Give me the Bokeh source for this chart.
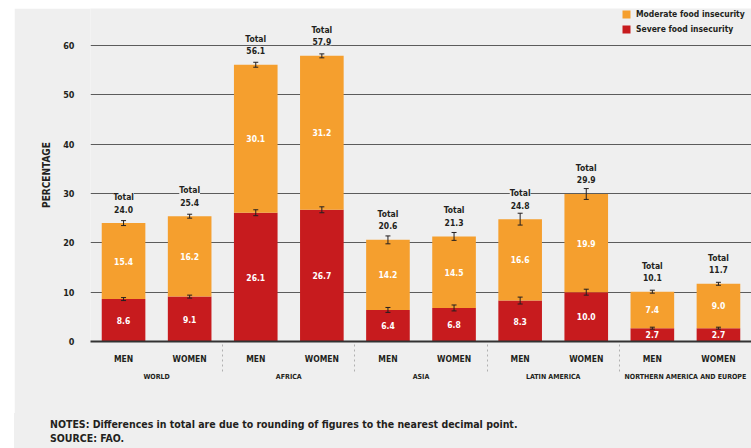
from bokeh.plotting import figure
from bokeh.models import (ColumnDataSource, FactorRange, LabelSet, Whisker, TeeHead,
                          Legend, LegendItem, FixedTicker, Range1d, Spacer, Div)
from bokeh.core.properties import value
from bokeh.layouts import row, column
from bokeh.embed import file_html
from bokeh.resources import INLINE

groups = ["WORLD", "AFRICA", "ASIA", "LATIN AMERICA", "NORTHERN AMERICA AND EUROPE"]
sexes = ["MEN", "WOMEN"]
severe = [8.6, 9.1, 26.1, 26.7, 6.4, 6.8, 8.3, 10.0, 2.7, 2.7]
moderate = [15.4, 16.2, 30.1, 31.2, 14.2, 14.5, 16.6, 19.9, 7.4, 9.0]
total = [24.0, 25.4, 56.1, 57.9, 20.6, 21.3, 24.8, 29.9, 10.1, 11.7]
severe_err = [0.3, 0.3, 0.6, 0.6, 0.5, 0.6, 0.7, 0.6, 0.2, 0.2]
total_err = [0.5, 0.4, 0.5, 0.4, 0.8, 0.8, 1.2, 1.1, 0.3, 0.3]
y_ticks = [0, 10, 20, 30, 40, 50, 60]
notes_text = "NOTES: Differences in total are due to rounding of figures to the nearest decimal point."
source_text = "SOURCE: FAO."

BG = "#efefef"
ORANGE = "#f59f2e"
RED = "#c71b1e"
FONT = "DejaVu Sans Condensed"
DARK = "#231f20"

factors = [(g, s) for g in groups for s in sexes]

src = ColumnDataSource(dict(
    x=factors,
    severe=severe,
    total=total,
    zero=[0] * len(factors),
    sev_mid=[s / 2 for s in severe],
    mod_mid=[(s + t) / 2 for s, t in zip(severe, total)],
    sev_txt=[f"{v:.1f}" for v in severe],
    mod_txt=[f"{v:.1f}" for v in moderate],
    tot_txt=[f"{v:.1f}" for v in total],
    tot_lbl=["Total"] * len(factors),
    sev_lo=[s - e for s, e in zip(severe, severe_err)],
    sev_hi=[s + e for s, e in zip(severe, severe_err)],
    tot_lo=[t - e for t, e in zip(total, total_err)],
    tot_hi=[t + e for t, e in zip(total, total_err)],
))

p = figure(
    x_range=FactorRange(*factors, group_padding=0, factor_padding=0, range_padding=0),
    y_range=Range1d(0, 67.5),
    width=737, height=405,
    output_backend="svg", toolbar_location=None,
    background_fill_color=BG, border_fill_color=BG,
    min_border_left=76, min_border_right=0, min_border_top=0, min_border_bottom=72,
    outline_line_color=None,
)

r_sev = p.vbar(x="x", bottom="zero", top="severe", width=0.66, source=src,
               fill_color=RED, line_color=None)
r_mod = p.vbar(x="x", bottom="severe", top="total", width=0.66, source=src,
               fill_color=ORANGE, line_color=None)

for lo, hi in (("sev_lo", "sev_hi"), ("tot_lo", "tot_hi")):
    w = Whisker(base="x", lower=lo, upper=hi, source=src, dimension="height",
                line_color=DARK, line_width=1, level="overlay",
                upper_head=TeeHead(size=5, line_color=DARK, line_width=1),
                lower_head=TeeHead(size=5, line_color=DARK, line_width=1))
    p.add_layout(w)

common = dict(text_font=value(FONT), text_font_style=value("bold"),
              text_font_size=value("8.5px"),
              text_align=value("center"), text_baseline=value("middle"), source=src)
p.add_layout(LabelSet(x="x", y="sev_mid", text="sev_txt", text_color=value("white"), **common))
p.add_layout(LabelSet(x="x", y="mod_mid", text="mod_txt", text_color=value("white"), **common))
p.add_layout(LabelSet(x="x", y="total", text="tot_txt", text_color=value(DARK), y_offset=14,
                      background_fill_color=value(BG), **common))
p.add_layout(LabelSet(x="x", y="total", text="tot_lbl", text_color=value(DARK), y_offset=26,
                      background_fill_color=value(BG), **common))

# grid
p.xgrid.grid_line_color = None
p.ygrid.grid_line_color = "#5c5c5c"
p.ygrid.grid_line_width = 1
p.yaxis.ticker = FixedTicker(ticks=y_ticks)

# y axis
p.yaxis.axis_line_color = None
p.yaxis.major_tick_line_color = None
p.yaxis.minor_tick_line_color = None
p.yaxis.major_label_text_font = FONT
p.yaxis.major_label_text_font_style = "bold"
p.yaxis.major_label_text_font_size = "9px"
p.yaxis.major_label_text_color = DARK
p.yaxis.major_label_standoff = 10
p.yaxis.axis_label = "PERCENTAGE"
p.yaxis.axis_label_text_font = FONT
p.yaxis.axis_label_text_font_style = "bold"
p.yaxis.axis_label_text_font_size = "10px"
p.yaxis.axis_label_text_color = DARK
p.yaxis.axis_label_standoff = 8

# x axis
xa = p.xaxis[0]
xa.axis_line_color = "#333333"
xa.axis_line_width = 2
xa.major_tick_line_color = None
xa.minor_tick_line_color = None
xa.major_label_text_font = FONT
xa.major_label_text_font_style = "bold"
xa.major_label_text_font_size = "8.5px"
xa.major_label_text_color = DARK
xa.major_label_standoff = 6
xa.group_text_font = FONT
xa.group_text_font_style = "bold"
xa.group_text_font_size = "7px"
xa.group_text_color = DARK
xa.separator_line_color = "#b0b0b0"
xa.separator_line_dash = "2 3"
xa.separator_line_width = 1

legend = Legend(items=[LegendItem(label="Moderate food insecurity", renderers=[r_mod]),
                       LegendItem(label="Severe food insecurity", renderers=[r_sev])],
                location=(531, 306), background_fill_alpha=0, border_line_color=None,
                label_text_font=FONT, label_text_font_style="bold",
                label_text_font_size="8.5px", label_text_color=DARK,
                glyph_width=10, glyph_height=10, label_height=12, spacing=3,
                padding=4, label_standoff=5)
p.add_layout(legend)

notes = Div(
    text=(f'<div style="padding:4px 0 0 36px; font-family:\'{FONT}\'; font-weight:bold; '
          f'font-size:10.5px; line-height:14px; color:{DARK}; white-space:nowrap;">'
          f'{notes_text}<br>{source_text}</div>'),
    width=737, height=35, margin=0,
    styles={"background-color": BG, "overflow": "hidden"},
)

layout = column(Spacer(width=751, height=8),
                row(Spacer(width=14, height=440), column(p, notes)))
open("out.html", "w").write(file_html(layout, INLINE))
